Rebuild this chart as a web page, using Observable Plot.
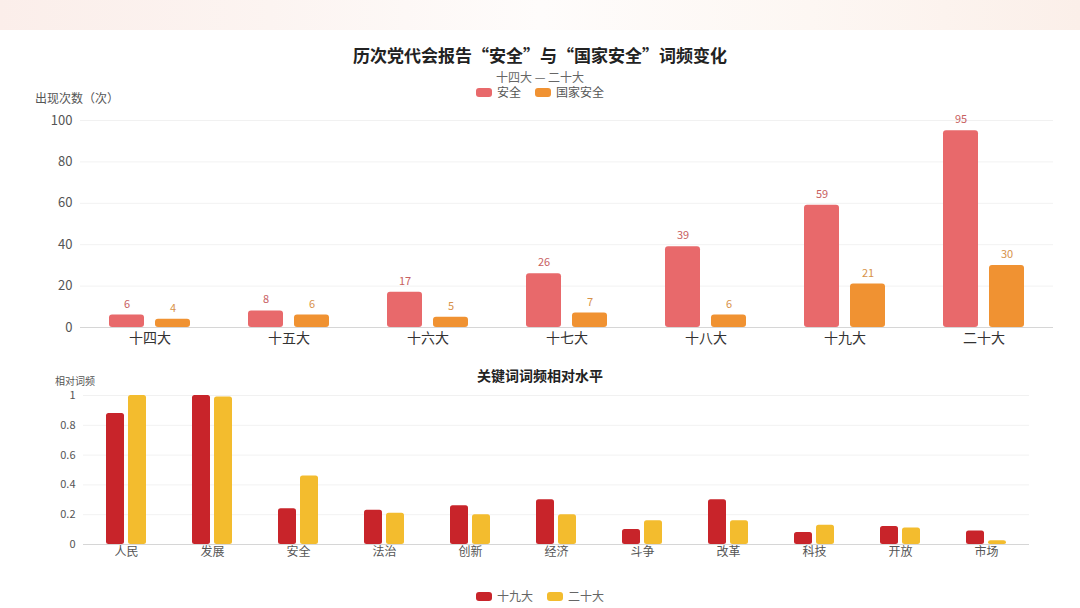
<!DOCTYPE html>
<html>
<head>
<meta charset="utf-8">
<script src="https://cdn.jsdelivr.net/npm/d3@7"></script>
<script src="https://cdn.jsdelivr.net/npm/@observablehq/plot@0.6"></script>
<style>
  html, body { margin:0; padding:0; background:#fff; }
  body { width:1080px; height:608px; position:relative; overflow:hidden;
         font-family:"Noto Sans CJK SC","Noto Sans",sans-serif; }
  .band { position:absolute; left:0; top:0; width:1080px; height:30px;
          background:linear-gradient(to right,#fbeeea,#fcf4f1 25%,#fefcfb 50%,#fdf7f3 75%,#fbefe9); }
  .abs { position:absolute; white-space:nowrap; z-index:2; }
  .center { left:0; width:1080px; text-align:center; }
  .sw { display:inline-block; width:16px; height:9px; border-radius:3px; vertical-align:middle; margin-right:5px; position:relative; top:-1px; }
  .gap { display:inline-block; width:14px; }
  svg text { font-family:"Noto Sans CJK SC","Noto Sans",sans-serif; }
  #top, #bottom { position:absolute; left:0; z-index:1; }
  #top { top:100px; }
  #bottom { top:380px; }
  #top g[aria-label="y-axis tick label"] { font-size:13px; fill:#555; }
  #top g[aria-label="fx-axis tick label"] { font-size:14px; fill:#333; }
  #bottom g[aria-label="y-axis tick label"] { font-size:11px; fill:#555; }
  #bottom g[aria-label="fx-axis tick label"] { font-size:12px; fill:#555; }
  g[aria-label="y-grid"] line { stroke:#000; stroke-opacity:0.055; }
</style>
</head>
<body>
<div class="band"></div>
<div id="top"></div>
<div id="bottom"></div>

<div class="abs center" style="top:44px;font-size:17px;font-weight:bold;color:#222;line-height:22px;">历次党代会报告“安全”与“国家安全”词频变化</div>
<div class="abs center" style="top:70px;font-size:12px;color:#666;line-height:14px;">十四大 — 二十大</div>
<div class="abs center" style="top:85px;font-size:12px;color:#555;line-height:14px;">
  <span class="sw" style="background:#e8696b"></span>安全<span class="gap"></span><span class="sw" style="background:#f09232"></span>国家安全
</div>
<div class="abs" style="left:35px;top:91px;font-size:12px;color:#555;line-height:14px;">出现次数（次）</div>

<div class="abs center" style="top:366px;font-size:14px;font-weight:bold;color:#222;line-height:18px;">关键词词频相对水平</div>
<div class="abs" style="left:55px;top:375px;font-size:10px;color:#555;line-height:12px;">相对词频</div>
<div class="abs center" style="top:589px;font-size:12px;color:#666;line-height:14px;">
  <span class="sw" style="background:#c8242a"></span>十九大<span class="gap"></span><span class="sw" style="background:#f3bc2e"></span>二十大
</div>

<script>
// ---- Top chart data ----
const congresses = ["十四大", "十五大", "十六大", "十七大", "十八大", "十九大", "二十大"];
const topSeries = ["安全", "国家安全"];
const anquan = [6, 8, 17, 26, 39, 59, 95];
const guojiaAnquan = [4, 6, 5, 7, 6, 21, 30];
const topTicks = [0, 20, 40, 60, 80, 100];

// ---- Bottom chart data ----
const keywords = ["人民", "发展", "安全", "法治", "创新", "经济", "斗争", "改革", "科技", "开放", "市场"];
const bottomSeries = ["十九大", "二十大"];
const shijiuda = [0.88, 1.00, 0.24, 0.23, 0.26, 0.30, 0.10, 0.30, 0.08, 0.12, 0.09];
const ershida = [1.00, 0.99, 0.46, 0.21, 0.20, 0.20, 0.16, 0.16, 0.13, 0.11, 0.025];
const bottomTicks = [0, 0.2, 0.4, 0.6, 0.8, 1];

const topData = congresses.flatMap((c, i) => [
  {c, s: topSeries[0], v: anquan[i]},
  {c, s: topSeries[1], v: guojiaAnquan[i]}
]);
const bottomData = keywords.flatMap((k, i) => [
  {k, s: bottomSeries[0], v: shijiuda[i]},
  {k, s: bottomSeries[1], v: ershida[i]}
]);

const topPlot = Plot.plot({
  width: 1080, height: 257,
  marginLeft: 80, marginRight: 27, marginTop: 20, marginBottom: 30,
  fx: {domain: congresses, padding: 0, label: null, tickSize: 0, tickPadding: 6, axis: "bottom"},
  x: {domain: topSeries, axis: null, paddingInner: 0.234, paddingOuter: 0.596},
  y: {domain: [0, 100], ticks: topTicks, grid: true, label: null, tickSize: 0, tickPadding: 8},
  color: {domain: topSeries, range: ["#e8696b", "#f09232"]},
  marks: [
    Plot.ruleY([0], {stroke: "#d6d6d6"}),
    Plot.barY(topData, {fx: "c", x: "s", y: "v", fill: "s", rx: 3}),
    Plot.text(topData.filter(d => d.s === topSeries[0]), {fx: "c", x: "s", y: "v", text: d => d.v, dy: -11, fill: "#c8605f", fontSize: 11}),
    Plot.text(topData.filter(d => d.s === topSeries[1]), {fx: "c", x: "s", y: "v", text: d => d.v, dy: -11, fill: "#d7924a", fontSize: 11})
  ]
});
document.getElementById("top").appendChild(topPlot);

const bottomPlot = Plot.plot({
  width: 1080, height: 189,
  marginLeft: 80, marginRight: 48, marginTop: 15, marginBottom: 25,
  fx: {domain: keywords, padding: 0, label: null, tickSize: 0, tickPadding: 3, axis: "bottom"},
  x: {domain: bottomSeries, axis: null, paddingInner: 0.18, paddingOuter: 1.0},
  y: {domain: [0, 1], ticks: bottomTicks, tickFormat: d => String(+d.toFixed(1)), grid: true, label: null, tickSize: 0, tickPadding: 8},
  color: {domain: bottomSeries, range: ["#c8242a", "#f3bc2e"]},
  marks: [
    Plot.ruleY([0], {stroke: "#d6d6d6"}),
    Plot.barY(bottomData, {fx: "k", x: "s", y: "v", fill: "s", rx: 2.5})
  ]
});
document.getElementById("bottom").appendChild(bottomPlot);
</script>
</body>
</html>
